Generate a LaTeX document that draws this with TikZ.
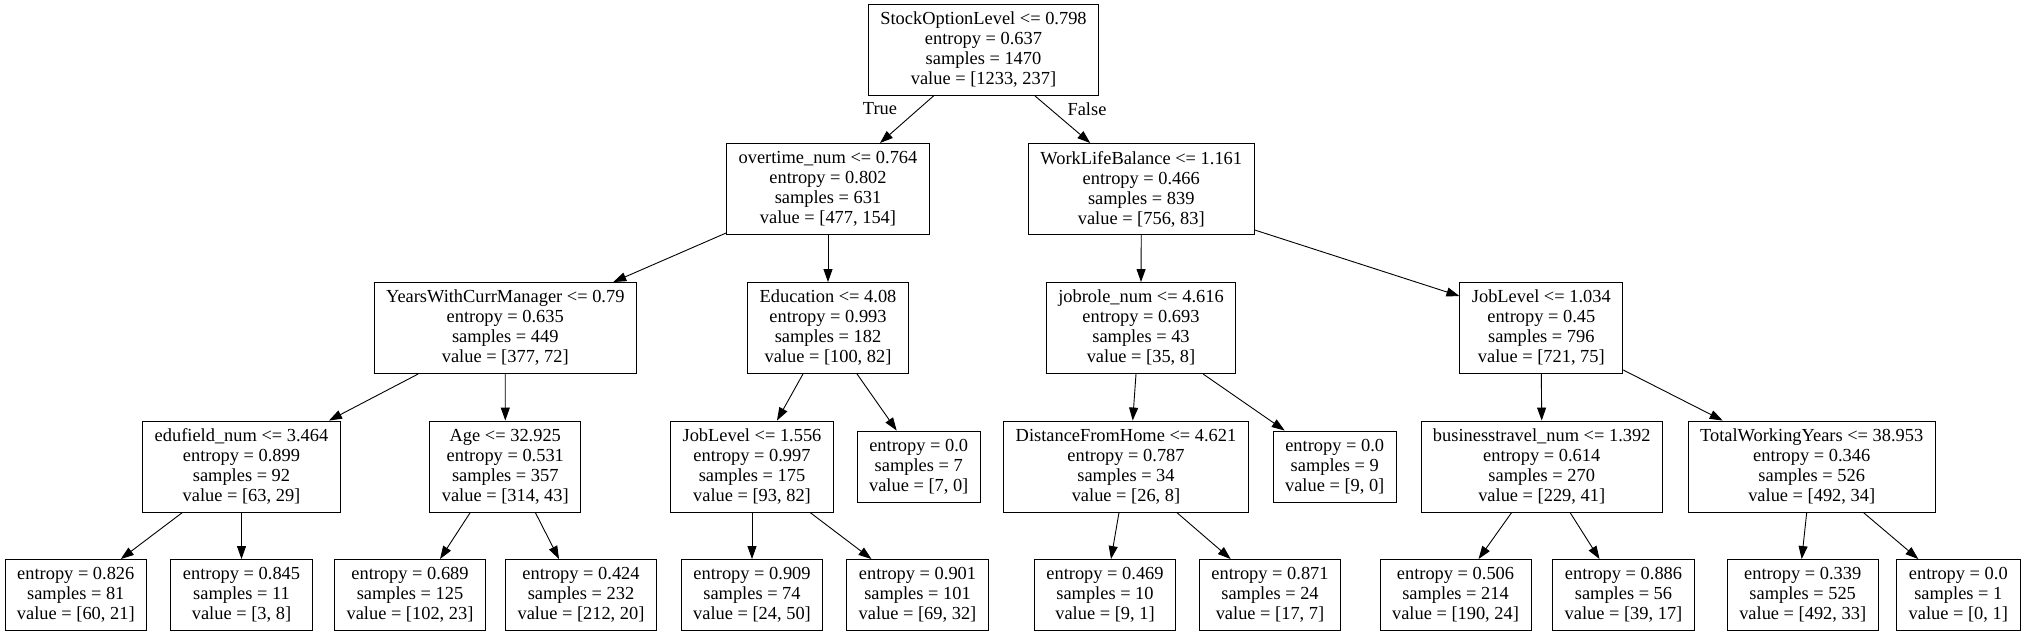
\documentclass[tikz,border=0pt]{standalone}
\usepackage{fontspec}
\setmainfont{Liberation Serif}
\usetikzlibrary{arrows.meta}
\begin{document}
\begin{tikzpicture}[x=1pt,y=-1pt,
				split/.style={rectangle,draw,align=center,minimum height=91pt,inner xsep=12pt,inner ysep=0pt},
				leaf/.style={rectangle,draw,align=center,minimum height=71pt,inner xsep=12pt,inner ysep=0pt},
				arr/.style={-{Triangle[length=13pt,width=9pt]}},
				lab/.style={inner sep=0pt},
				line width=0.9pt,
				font=\fontsize{18.4}{20}\selectfont]
				\useasboundingbox (0,0) rectangle (2025,636);
				% level 0 and 1
				\node [split]	(Stock)		at (983.5,50)		{StockOptionLevel <= 0.798\\entropy = 0.637\\samples = 1470\\value = [1233, 237]};
				\node [split]	(Over)		at (828,189)		{overtime\_num <= 0.764\\entropy = 0.802\\samples = 631\\value = [477, 154]};
					\draw [arr] ([xshift=-50pt]Stock.south) -- ([xshift=52pt]Over.north);
					\node [lab] at (880,109)	{True};
				\node [split]	(WLB)		at (1141.25,189)	{WorkLifeBalance <= 1.161\\entropy = 0.466\\samples = 839\\value = [756, 83]};
					\draw [arr] ([xshift=51.5pt]Stock.south) -- ([xshift=-51pt]WLB.north);
					\node [lab] at (1087,109)	{False};
				% level 2
				\node [split]	(YWCM)		at (505.25,328)		{YearsWithCurrManager <= 0.79\\entropy = 0.635\\samples = 449\\value = [377, 72]};
					\draw [arr] ([yshift=2pt]Over.south west) -- ([xshift=108pt]YWCM.north);
				\node [split]	(Edu)		at (828,328)		{Education <= 4.08\\entropy = 0.993\\samples = 182\\value = [100, 82]};
					\draw [arr] (Over.south) -- (Edu.north);
				\node [split]	(JobRole)	at (1141,328)		{jobrole\_num <= 4.616\\entropy = 0.693\\samples = 43\\value = [35, 8]};
					\draw [arr] (WLB.south) -- (JobRole.north);
				\node [split]	(JobLvA)	at (1541.3,328)		{JobLevel <= 1.034\\entropy = 0.45\\samples = 796\\value = [721, 75]};
					\draw [arr] ([yshift=5pt]WLB.south east) -- ([yshift=-14pt]JobLvA.north west);
				% level 3
				\node [split]	(EduField)	at (241.5,466.5)	{edufield\_num <= 3.464\\entropy = 0.899\\samples = 92\\value = [63, 29]};
					\draw [arr] ([xshift=-87pt]YWCM.south) -- ([xshift=87.5pt]EduField.north);
				\node [split]	(Age)		at (505.3,466.5)	{Age <= 32.925\\entropy = 0.531\\samples = 357\\value = [314, 43]};
					\draw [arr] (YWCM.south) -- (Age.north);
				\node [split]	(JobLvB)	at (752,466.5)		{JobLevel <= 1.556\\entropy = 0.997\\samples = 175\\value = [93, 82]};
					\draw [arr] ([xshift=-25pt]Edu.south) -- ([xshift=25pt]JobLvB.north);
				\node [leaf]	(EduLeaf)	at (918.7,466.5)	{entropy = 0.0\\samples = 7\\value = [7, 0]};
					\draw [arr] ([xshift=29pt]Edu.south) -- ([xshift=-22pt]EduLeaf.north);
				\node [split]	(Dist)		at (1126,466.5)		{DistanceFromHome <= 4.621\\entropy = 0.787\\samples = 34\\value = [26, 8]};
					\draw [arr] ([xshift=-5pt]JobRole.south) -- ([xshift=6.7pt]Dist.north);
				\node [leaf]	(RoleLeaf)	at (1334.7,466.5)	{entropy = 0.0\\samples = 9\\value = [9, 0]};
					\draw [arr] ([xshift=62pt]JobRole.south) -- ([xshift=-50pt]RoleLeaf.north);
				\node [split]	(Travel)	at (1541.7,466.5)	{businesstravel\_num <= 1.392\\entropy = 0.614\\samples = 270\\value = [229, 41]};
					\draw [arr] (JobLvA.south) -- (Travel.north);
				\node [split]	(TWY)		at (1811.7,466.5)	{TotalWorkingYears <= 38.953\\entropy = 0.346\\samples = 526\\value = [492, 34]};
					\draw [arr] ([yshift=4pt]JobLvA.south east) -- ([xshift=-89pt]TWY.north);
				% level 4, leaves
				\node [leaf]	(EduFieldL)	at (75.8,595)		{entropy = 0.826\\samples = 81\\value = [60, 21]};
					\draw [arr] ([xshift=-59pt]EduField.south) -- ([xshift=45pt]EduFieldL.north);
				\node [leaf]	(EduFieldR)	at (241.5,595)		{entropy = 0.845\\samples = 11\\value = [3, 8]};
					\draw [arr] (EduField.south) -- (EduFieldR.north);
				\node [leaf]	(AgeL)		at (410,595)		{entropy = 0.689\\samples = 125\\value = [102, 23]};
					\draw [arr] ([xshift=-35pt]Age.south) -- ([xshift=30pt]AgeL.north);
				\node [leaf]	(AgeR)		at (581,595)		{entropy = 0.424\\samples = 232\\value = [212, 20]};
					\draw [arr] ([xshift=30pt]Age.south) -- ([xshift=-22pt]AgeR.north);
				\node [leaf]	(JobLvBL)	at (752,595)		{entropy = 0.909\\samples = 74\\value = [24, 50]};
					\draw [arr] (JobLvB.south) -- (JobLvBL.north);
				\node [leaf]	(JobLvBR)	at (917.5,595)		{entropy = 0.901\\samples = 101\\value = [69, 32]};
					\draw [arr] ([xshift=58pt]JobLvB.south) -- ([xshift=-46pt]JobLvBR.north);
				\node [leaf]	(DistL)		at (1105,595)		{entropy = 0.469\\samples = 10\\value = [9, 1]};
					\draw [arr] ([xshift=-7pt]Dist.south) -- ([xshift=6pt]DistL.north);
				\node [leaf]	(DistR)		at (1270,595)		{entropy = 0.871\\samples = 24\\value = [17, 7]};
					\draw [arr] ([xshift=50.7pt]Dist.south) -- ([xshift=-39.3pt]DistR.north);
				\node [leaf]	(TravelL)	at (1455.5,595)		{entropy = 0.506\\samples = 214\\value = [190, 24]};
					\draw [arr] ([xshift=-30pt]Travel.south) -- ([xshift=23pt]TravelL.north);
				\node [leaf]	(TravelR)	at (1623.5,595)		{entropy = 0.886\\samples = 56\\value = [39, 17]};
					\draw [arr] ([xshift=28.3pt]Travel.south) -- ([xshift=-24pt]TravelR.north);
				\node [leaf]	(TWYL)		at (1802.7,595)		{entropy = 0.339\\samples = 525\\value = [492, 33]};
					\draw [arr] ([xshift=-5pt]TWY.south) -- ([xshift=-1pt]TWYL.north);
				\node [leaf]	(TWYR)		at (1958.3,595)		{entropy = 0.0\\samples = 1\\value = [0, 1]};
					\draw [arr] ([xshift=51.6pt]TWY.south) -- ([xshift=-40pt]TWYR.north);
\end{tikzpicture}
\end{document}
